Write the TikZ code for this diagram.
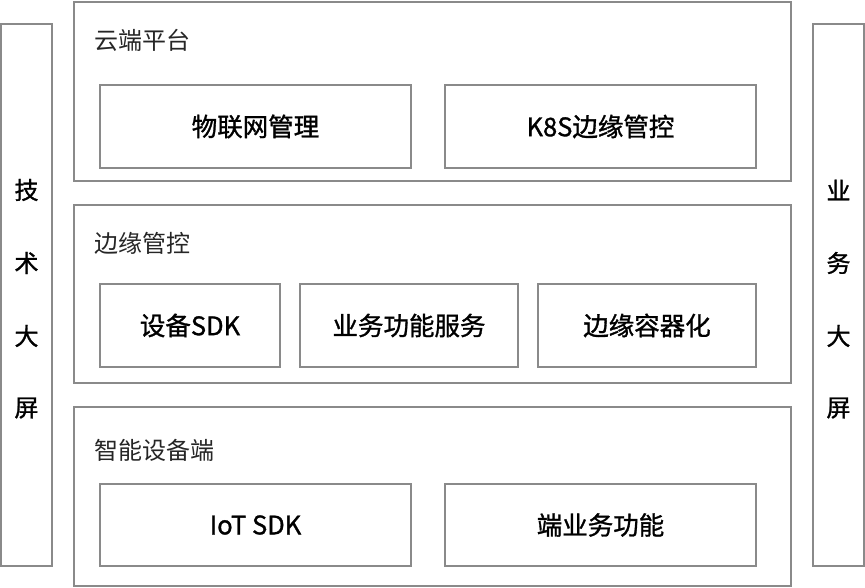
\documentclass[tikz,border=0pt]{standalone}
\usepackage{fontspec}
\setmainfont{Noto Sans CJK SC}
\newfontfamily\cjkb{Noto Sans CJK SC}[FakeBold=1.2]
\definecolor{edge}{HTML}{8A8A8A}
\begin{document}
\begin{tikzpicture}[x=1pt,y=-1pt,
  frame/.style={draw=edge,line width=1.4pt,fill=white},
  panellabel/.style={anchor=west,font=\fontsize{24}{26}\selectfont,text=black!85},
  itemlabel/.style={font=\cjkb\fontsize{25.5}{27}\selectfont,text=black},
  sidelabel/.style={font=\cjkb\fontsize{24}{26}\selectfont,text=black,align=center}]
\useasboundingbox (0,0) rectangle (865,588);
% side bars
\draw[frame] (1,24) rectangle (52,566);
\foreach \c/\y in {技/190,术/263,大/336,屏/408}{\node[sidelabel] at (26.5,\y) {\c};}
\draw[frame] (813,24) rectangle (864,566);
\foreach \c/\y in {业/190,务/263,大/336,屏/408}{\node[sidelabel] at (838.5,\y) {\c};}
% panels
\draw[frame] (74,2) rectangle (791,181);
\node[panellabel] (p1) at (91,40) {云端平台};
\draw[frame] (74,205) rectangle (791,383);
\node[panellabel] (p2) at (91,243) {边缘管控};
\draw[frame] (74,407) rectangle (791,586);
\node[panellabel] (p3) at (91,450) {智能设备端};
% items top
\draw[frame] (100,85) rectangle (411,168);
\node[itemlabel] (a1) at (255.5,126.5) {物联网管理};
\draw[frame] (445,85) rectangle (756,168);
\node[itemlabel] (a2) at (600.5,126.5) {K8S边缘管控};
% items middle
\draw[frame] (100,284) rectangle (280,367);
\node[itemlabel] (b1) at (190,325.5) {设备SDK};
\draw[frame] (300,284) rectangle (518,367);
\node[itemlabel] (b2) at (409,325.5) {业务功能服务};
\draw[frame] (538,284) rectangle (756,367);
\node[itemlabel] (b3) at (647,325.5) {边缘容器化};
% items bottom
\draw[frame] (100,484) rectangle (411,566);
\node[itemlabel] (c1) at (255.5,525) {IoT SDK};
\draw[frame] (445,484) rectangle (756,566);
\node[itemlabel] (c2) at (600.5,525) {端业务功能};
\end{tikzpicture}
\end{document}
